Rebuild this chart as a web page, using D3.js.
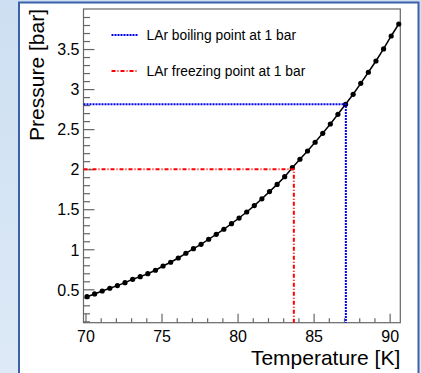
<!DOCTYPE html>
<html>
<head>
<meta charset="utf-8">
<script src="https://cdn.jsdelivr.net/npm/d3@7"></script>
<style>
  html, body { margin: 0; padding: 0; background: #fff; }
  svg { display: block; }
  text { font-family: "Liberation Sans", Arial, Helvetica, sans-serif; fill: #000; }
</style>
</head>
<body>
<script>
// ---- data ----
const temperatures = [
  70.1, 70.6, 71.1, 71.6, 72.1, 72.6, 73.1, 73.6, 74.1, 74.6,
  75.1, 75.6, 76.1, 76.6, 77.1, 77.6, 78.1, 78.6, 79.1, 79.6,
  80.1, 80.6, 81.1, 81.6, 82.1, 82.6, 83.1, 83.6, 84.1, 84.6,
  85.1, 85.6, 86.1, 86.6, 87.1, 87.6, 88.1, 88.6, 89.1, 89.6,
  90.1, 90.6
];
const pressures = [
  0.408, 0.442, 0.479, 0.513, 0.546, 0.583, 0.625, 0.658, 0.695, 0.738,
  0.791, 0.838, 0.891, 0.950, 1.007, 1.062, 1.125, 1.187, 1.250, 1.320,
  1.390, 1.465, 1.545, 1.630, 1.720, 1.810, 1.906, 2.019, 2.124, 2.227,
  2.336, 2.448, 2.564, 2.685, 2.810, 2.935, 3.072, 3.210, 3.351, 3.501,
  3.663, 3.813
];
const xTicks = [70, 75, 80, 85, 90];
const xMinorTicks = d3.range(70, 91, 1);
const yTicks = [0.5, 1, 1.5, 2, 2.5, 3, 3.5];
const yMinorTicks = d3.range(1, 40).map(d => d / 10);
const refLines = [
  { label: "LAr boiling point at 1 bar", T: 87.12, P: 2.81, color: "#0000ff", dash: "2,1" },
  { label: "LAr freezing point at 1 bar", T: 83.7, P: 2.0, color: "#ff0000", dash: "4,2,1,2" }
];
const xTitle = "Temperature [K]";
const yTitle = "Pressure [bar]";

// ---- layout ----
const W = 421, H = 373;
const frame = { left: 83.5, right: 400.3, top: 9, bottom: 322.7 };

const svg = d3.select("body").append("svg").attr("width", W).attr("height", H);

// slide-like background
const defs = svg.append("defs");
const grad = defs.append("linearGradient").attr("id", "bg").attr("x1", 0).attr("y1", 0).attr("x2", 0).attr("y2", 1);
grad.append("stop").attr("offset", "0%").attr("stop-color", "#cddff2");
grad.append("stop").attr("offset", "100%").attr("stop-color", "#dde9f6");
svg.append("rect").attr("width", W).attr("height", H).attr("fill", "url(#bg)");
svg.append("rect").attr("x", 19).attr("y", 2.5).attr("width", 399.5).attr("height", H + 10)
  .attr("fill", "#fff").attr("stroke", "#3b62a9").attr("stroke-width", 2);

const x = d3.scaleLinear().domain([69.87, 90.7]).range([frame.left, frame.right]);
const y = d3.scaleLinear().domain([0.083, 4.0]).range([frame.bottom, frame.top]);

// axes: minor ticks
svg.append("g").attr("transform", `translate(0,${frame.bottom})`)
  .call(d3.axisTop(x).tickValues(xMinorTicks.filter(d => !xTicks.includes(d))).tickSize(4.5).tickFormat(""))
  .call(g => g.select(".domain").remove())
  .call(g => g.selectAll("line").attr("stroke", "#666").attr("stroke-width", 1.2));
svg.append("g").attr("transform", `translate(${frame.left},0)`)
  .call(d3.axisRight(y).tickValues(yMinorTicks.filter(d => !yTicks.some(t => Math.abs(t - d) < 1e-9))).tickSize(6.5).tickFormat(""))
  .call(g => g.select(".domain").remove())
  .call(g => g.selectAll("line").attr("stroke", "#666").attr("stroke-width", 1.2));

// axes: major ticks
const xAxis = svg.append("g").attr("transform", `translate(0,${frame.bottom})`)
  .call(d3.axisTop(x).tickValues(xTicks).tickSize(9).tickFormat(d3.format("d")))
  .call(g => g.select(".domain").remove())
  .call(g => g.selectAll("line").attr("stroke", "#666").attr("stroke-width", 1.2));
xAxis.selectAll("text").attr("y", 19).attr("dy", 0).attr("font-size", 16)
  .style("font-family", "'Liberation Sans', Arial, sans-serif").attr("fill", "#000")
  .attr("dominant-baseline", "auto");

const yAxis = svg.append("g").attr("transform", `translate(${frame.left},0)`)
  .call(d3.axisRight(y).tickValues(yTicks).tickSize(11).tickFormat(d => String(d)))
  .call(g => g.select(".domain").remove())
  .call(g => g.selectAll("line").attr("stroke", "#666").attr("stroke-width", 1.2));
yAxis.selectAll("text").attr("x", -4).attr("dy", "0.36em").attr("text-anchor", "end").attr("font-size", 16)
  .style("font-family", "'Liberation Sans', Arial, sans-serif").attr("fill", "#000");

// frame
svg.append("rect").attr("x", frame.left).attr("y", frame.top)
  .attr("width", frame.right - frame.left).attr("height", frame.bottom - frame.top)
  .attr("fill", "none").attr("stroke", "#666").attr("stroke-width", 1.2);

// curve
const pts = temperatures.map((t, i) => ({ t, p: pressures[i] }));
svg.append("path").datum(pts)
  .attr("d", d3.line().x(d => x(d.t)).y(d => y(d.p)))
  .attr("fill", "none").attr("stroke", "#000").attr("stroke-width", 1.5);
svg.append("g").selectAll("circle").data(pts).join("circle")
  .attr("cx", d => x(d.t)).attr("cy", d => y(d.p)).attr("r", 2.6).attr("fill", "#000");

// reference lines
refLines.forEach(r => {
  svg.append("path")
    .attr("d", `M${frame.left},${y(r.P)}H${x(r.T)}V${frame.bottom}`)
    .attr("fill", "none").attr("stroke", r.color).attr("stroke-width", 2)
    .attr("stroke-dasharray", r.dash);
});

// legend
const legendY = [35, 71];
refLines.forEach((r, i) => {
  svg.append("line").attr("x1", 111.5).attr("x2", 138).attr("y1", legendY[i]).attr("y2", legendY[i])
    .attr("stroke", r.color).attr("stroke-width", 2).attr("stroke-dasharray", r.dash);
  svg.append("text").attr("x", 146.5).attr("y", legendY[i] + 4.8).attr("font-size", 13.8).text(r.label);
});

// axis titles
svg.append("text").attr("x", frame.right).attr("y", 365).attr("text-anchor", "end")
  .attr("font-size", 21).text(xTitle);
svg.append("text").attr("transform", `translate(43.5,${frame.top}) rotate(-90)`)
  .attr("text-anchor", "end").attr("font-size", 21).text(yTitle);
</script>
</body>
</html>
